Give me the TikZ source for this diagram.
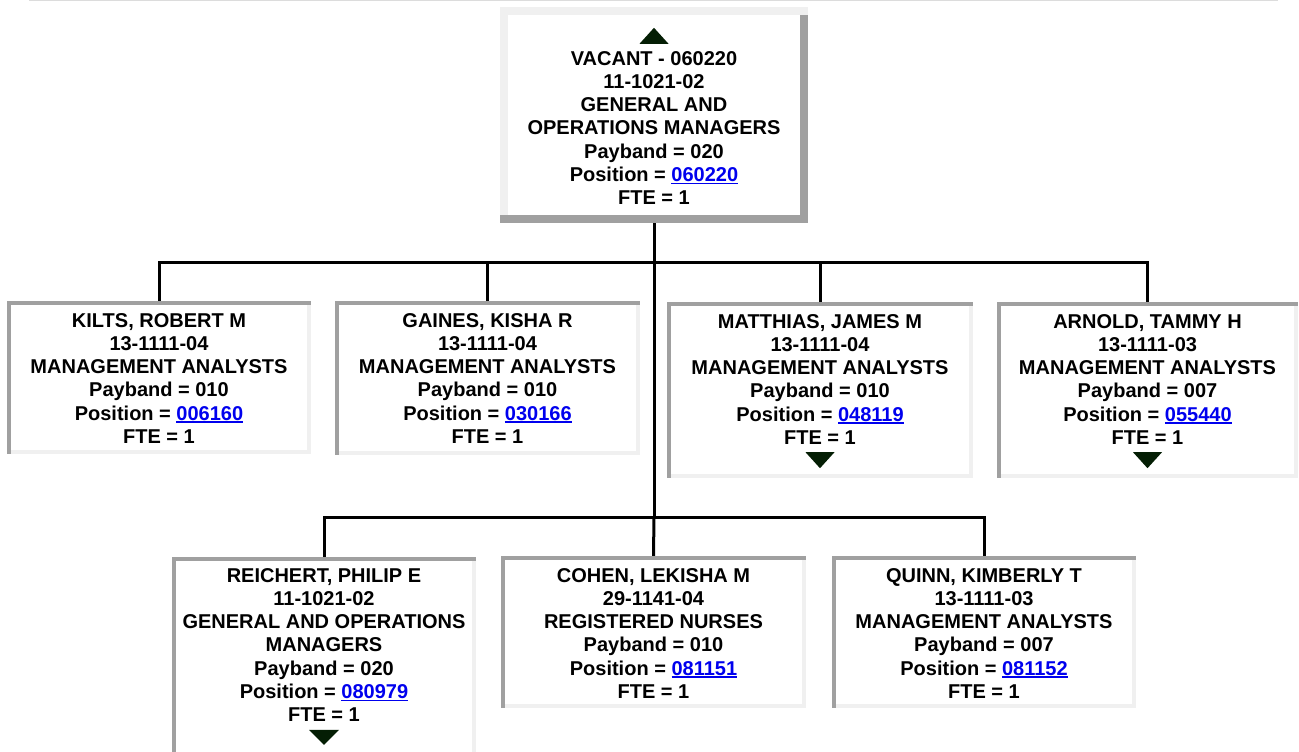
\documentclass[tikz,border=0pt]{standalone}
\usepackage{fontspec}
\setmainfont{Liberation Sans}
\definecolor{bdark}{HTML}{A0A0A0}
\definecolor{blight}{HTML}{F0F0F0}
\definecolor{linkblue}{RGB}{0,0,238}
\definecolor{tri}{RGB}{4,30,4}
\definecolor{hrule}{HTML}{DCDCDC}
\newcommand\tp[1]{\rule{0pt}{#1pt}}
\newcommand\bt[1]{\rule[-#1pt]{0pt}{#1pt}}
\newcommand\lnk[1]{{\color{linkblue}\setbox0\hbox{#1}\rlap{\rule[-3pt]{\wd0}{1.6pt}}\box0}}
\newcommand\insetborder[1]{%
  \fill[bdark] (#1.north west) rectangle ([yshift=-4pt]#1.north east);
  \fill[bdark] (#1.north west) rectangle ([xshift=4pt]#1.south west);
  \fill[blight] ([xshift=4pt]#1.south west) rectangle ([yshift=4pt]#1.south east);
  \fill[blight] ([yshift=-4pt]#1.north east) rectangle ([xshift=-4pt,yshift=4pt]#1.south east);}
\newcommand\outsetborder[1]{%
  \fill[blight] (#1.north west) rectangle ([yshift=-8pt]#1.north east);
  \fill[blight] (#1.north west) rectangle ([xshift=8pt,yshift=8pt]#1.south west);
  \fill[bdark] (#1.south west) rectangle ([yshift=8pt]#1.south east);
  \fill[bdark] ([yshift=-8pt]#1.north east) rectangle ([xshift=-8pt]#1.south east);}
\tikzset{
  pbox/.style={inner sep=0pt, fill=white, align=center,
    font=\fontsize{20}{23.2}\selectfont\bfseries},
  conn/.style={line width=3pt, black, line join=miter},
  downtri/.style={fill=tri},
}
\begin{document}
\begin{tikzpicture}[x=1pt,y=-1pt]
\useasboundingbox (0,0) rectangle (1299,752);
\clip (0,0) rectangle (1299,752);
\draw[line width=1.5pt, hrule] (29,0.75) -- (1278,0.75);

% top box
\node[pbox, minimum width=308pt, minimum height=216pt] (top) at (654,115)
  {\tp{44.6}VACANT - 060220\\11-1021-02\\GENERAL AND\\OPERATIONS MANAGERS\\Payband = 020\\Position = \lnk{060220}\\FTE = 1\bt{5}};
% row 1
\node[pbox, minimum width=304pt, minimum height=153pt] (kilts) at (159,377.5)
  {\tp{20.4}KILTS, ROBERT M\\13-1111-04\\MANAGEMENT ANALYSTS\\Payband = 010\\Position = \lnk{006160}\\FTE = 1\bt{5}};
\node[pbox, minimum width=305pt, minimum height=154pt] (gaines) at (487.5,378)
  {\tp{19.4}GAINES, KISHA R\\13-1111-04\\MANAGEMENT ANALYSTS\\Payband = 010\\Position = \lnk{030166}\\FTE = 1\bt{5}};
\node[pbox, minimum width=306pt, minimum height=176pt] (matt) at (820,390)
  {\tp{15}MATTHIAS, JAMES M\\13-1111-04\\MANAGEMENT ANALYSTS\\Payband = 010\\Position = \lnk{048119}\\FTE = 1\bt{22.6}};
\node[pbox, minimum width=301pt, minimum height=176pt] (arnold) at (1147.5,390)
  {\tp{15}ARNOLD, TAMMY H\\13-1111-03\\MANAGEMENT ANALYSTS\\Payband = 007\\Position = \lnk{055440}\\FTE = 1\bt{22.6}};
% row 2
\node[pbox, minimum width=304pt, minimum height=213pt] (reich) at (324,663.5)
  {\tp{15}REICHERT, PHILIP E\\11-1021-02\\GENERAL AND OPERATIONS\\MANAGERS\\Payband = 020\\Position = \lnk{080979}\\FTE = 1\bt{38.4}};
\node[pbox, minimum width=305pt, minimum height=152pt] (cohen) at (653.5,632)
  {\tp{21.4}COHEN, LEKISHA M\\29-1141-04\\REGISTERED NURSES\\Payband = 010\\Position = \lnk{081151}\\FTE = 1\bt{5}};
\node[pbox, minimum width=304pt, minimum height=152pt] (quinn) at (984,632)
  {\tp{21.4}QUINN, KIMBERLY T\\13-1111-03\\MANAGEMENT ANALYSTS\\Payband = 007\\Position = \lnk{081152}\\FTE = 1\bt{5}};

\outsetborder{top}
\insetborder{kilts}
\insetborder{gaines}
\insetborder{matt}
\insetborder{arnold}
\insetborder{reich}
\insetborder{cohen}
\insetborder{quinn}

% expand / collapse arrows
\fill[downtri] ([xshift=-14.5pt,yshift=-37pt]top.north) -- ++(29pt,0) -- ++(-14.5pt,16pt) -- cycle;
\fill[downtri] ([xshift=-14.5pt,yshift=26pt]matt.south) -- ++(29pt,0) -- ++(-14.5pt,-16pt) -- cycle;
\fill[downtri] ([xshift=-14.5pt,yshift=26pt]arnold.south) -- ++(29pt,0) -- ++(-14.5pt,-16pt) -- cycle;
\fill[downtri] ([xshift=-15pt,yshift=-173pt]reich.north) -- ++(30pt,0) -- ++(-15pt,-15pt) -- cycle;

% connectors
\coordinate (j1) at (654,262);
\coordinate (j2) at (654,517);
\draw[conn] (top.south) -- (j2);
\draw[conn] (kilts.north) |- (j1) -| (arnold.north);
\draw[conn] (gaines.north) -- (gaines.north |- j1);
\draw[conn] (matt.north) -- (matt.north |- j1);
\draw[conn] (reich.north) |- (j2) -| (quinn.north);
\draw[conn] (cohen.north) -- (j2);
\end{tikzpicture}
\end{document}
